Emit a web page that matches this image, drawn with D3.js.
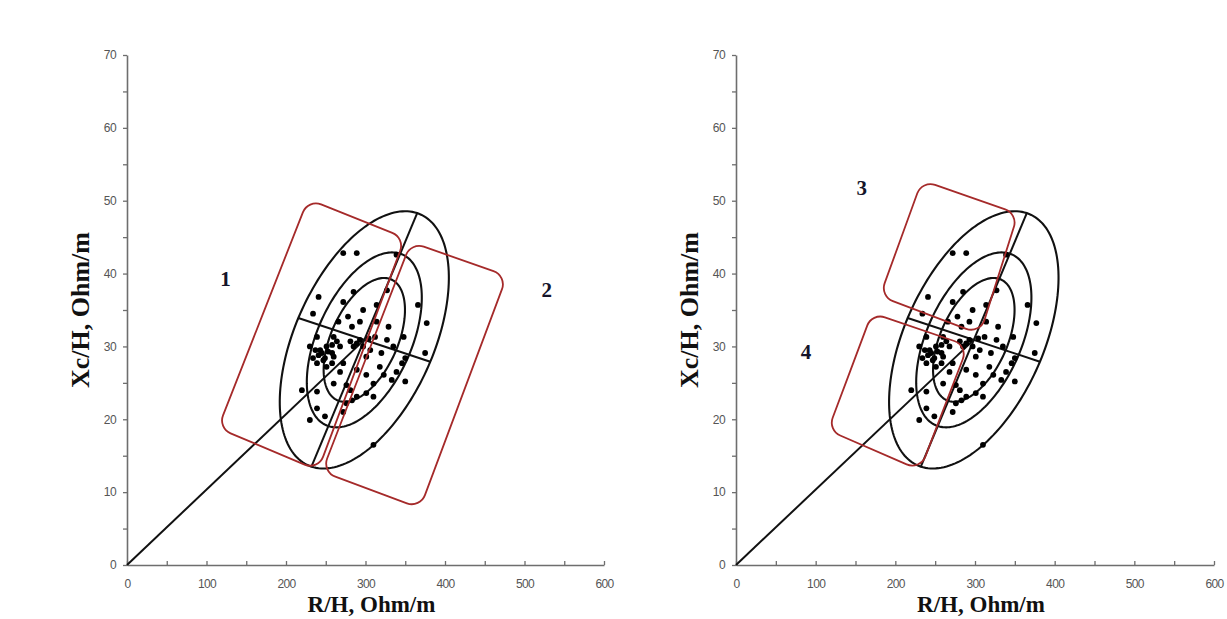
<!DOCTYPE html>
<html>
<head>
<meta charset="utf-8">
<script src="https://cdn.jsdelivr.net/npm/d3@7"></script>
<style>
  html, body { margin: 0; padding: 0; background: #fff; }
  svg { display: block; }
</style>
</head>
<body>
<svg id="chart" width="1227" height="619"></svg>
<script>
// Axis ticks
const xTickValues = [0, 50, 100, 150, 200, 250, 300, 350, 400, 450, 500, 550, 600];
const xTickLabels = [0, 100, 200, 300, 400, 500, 600];
const yTickValues = [0, 5, 10, 15, 20, 25, 30, 35, 40, 45, 50, 55, 60, 65, 70];
const yTickLabels = [0, 10, 20, 30, 40, 50, 60, 70];

// Individual measurements (R/H, Xc/H)
const pointsR = [272, 289, 339, 241, 285, 272, 327, 234, 366, 297, 314, 278, 293, 266, 314, 329, 377, 283, 239, 260,
  289, 304, 312, 335, 230, 243, 251, 258, 285, 241, 247, 234, 375, 350, 346, 301, 318, 323, 272, 268,
  289, 301, 333, 350, 220, 239, 276, 281, 289, 301, 310, 276, 283, 239, 249, 230, 272, 310,
  237, 245, 249, 253, 258, 260, 239, 251, 258, 264, 268, 281, 293, 297, 306, 320, 327, 348, 310, 260, 339];
const pointsXc = [42.8, 42.8, 42.6, 36.8, 37.5, 36.1, 37.7, 34.5, 35.7, 35.0, 35.7, 34.1, 33.4, 33.4, 33.4, 32.7, 33.2, 32.7, 31.3, 31.3,
  30.4, 31.1, 31.3, 30.0, 30.0, 29.5, 30.0, 29.1, 30.0, 28.8, 28.1, 28.4, 29.1, 28.4, 27.7, 28.6, 27.2, 26.1, 27.7, 26.5,
  26.8, 26.1, 25.4, 25.2, 24.0, 23.8, 24.7, 24.0, 23.1, 23.6, 23.1, 22.2, 22.6, 21.5, 20.4, 19.9, 21.0, 16.5,
  29.5, 29.1, 28.4, 29.3, 30.2, 28.6, 27.7, 27.2, 27.7, 30.7, 30.0, 30.7, 30.9, 30.0, 29.5, 29.1, 30.9, 31.3, 24.9, 24.9, 26.5];

// Tolerance ellipses: mean vector, conjugate half-axes of the outer (95%) ellipse, scale of each level
const meanVector = [298.5, 30.9];
const majorHalfAxis = [66.5, 17.4];
const minorHalfAxis = [83.0, -3.0];
const ellipseLevels = [0.481, 0.680, 1.0];

// Highlighted zones (corner points in R/H, Xc/H)
const zonesLeft = [
  [[227.7, 50.2], [349.7, 44.9], [240.3, 13.0], [114.5, 18.8]],
  [[357.2, 44.3], [478.0, 39.7], [368.6, 7.8], [245.3, 12.8]]
];
const zonesRight = [
  [[233.5, 52.8], [354.0, 48.2], [306.3, 31.7], [180.7, 36.9]],
  [[170.7, 34.6], [291.2, 30.1], [231.0, 13.0], [115.5, 18.5]]
];
const zoneNamesLeft = [["1", 124, 39.3], ["2", 528, 37.7]];
const zoneNamesRight = [["3", 158, 51.7], ["4", 88, 29.2]];

const xTitle = "R/H, Ohm/m";
const yTitle = "Xc/H, Ohm/m";

const svg = d3.select("#chart");

function roundedPolygon(pts, r) {
  const p = d3.path();
  const n = pts.length;
  const last = pts[n - 1], first = pts[0];
  p.moveTo((last[0] + first[0]) / 2, (last[1] + first[1]) / 2);
  for (let i = 0; i < n; i++) {
    const a = pts[i], b = pts[(i + 1) % n];
    p.arcTo(a[0], a[1], (a[0] + b[0]) / 2, (a[1] + b[1]) / 2, r);
  }
  p.closePath();
  return p.toString();
}

function drawPanel(opt) {
  const x = d3.scaleLinear().domain([0, 600]).range([opt.x0, opt.x1]);
  const y = d3.scaleLinear().domain([0, 70]).range([565, 55]);
  const g = svg.append("g");

  // x axis
  const xAxis = d3.axisBottom(x)
    .tickValues(xTickValues)
    .tickSizeInner(-4).tickSizeOuter(0).tickPadding(14)
    .tickFormat(d => xTickLabels.includes(d) ? d : "");
  const gx = g.append("g").attr("transform", "translate(0,565)").call(xAxis);

  // y axis
  const yAxis = d3.axisLeft(y)
    .tickValues(yTickValues)
    .tickSizeInner(4).tickSizeOuter(0).tickPadding(7)
    .tickFormat(d => yTickLabels.includes(d) ? d : "");
  const gy = g.append("g").attr("transform", `translate(${opt.x0},0)`).call(yAxis);

  [gx, gy].forEach(a => {
    a.select(".domain").attr("stroke", "#6e6e6e").attr("stroke-width", 1.6);
    a.selectAll(".tick line").attr("stroke", "#6e6e6e").attr("stroke-width", 1.3);
    a.selectAll(".tick text")
      .attr("fill", "#555")
      .style("font-family", "'Liberation Sans', Arial, sans-serif")
      .style("font-size", "12px")
      .attr("letter-spacing", "-0.6");
  });

  // line from the origin to the mean vector
  const line = d3.line().x(d => x(d[0])).y(d => y(d[1]));
  g.append("path")
    .attr("d", line([[0, 0], meanVector]))
    .attr("fill", "none").attr("stroke", "#111").attr("stroke-width", 2);

  // tolerance ellipses
  const steps = d3.range(0, 180);
  ellipseLevels.forEach(k => {
    const pts = steps.map(i => {
      const t = i / 180 * 2 * Math.PI;
      return [
        meanVector[0] + k * (Math.cos(t) * majorHalfAxis[0] + Math.sin(t) * minorHalfAxis[0]),
        meanVector[1] + k * (Math.cos(t) * majorHalfAxis[1] + Math.sin(t) * minorHalfAxis[1])
      ];
    });
    g.append("path")
      .attr("d", d3.line().x(d => x(d[0])).y(d => y(d[1])).curve(d3.curveLinearClosed)(pts))
      .attr("fill", "none").attr("stroke", "#111").attr("stroke-width", 2.1);
  });

  // principal axes of the outer ellipse
  [majorHalfAxis, minorHalfAxis].forEach(h => {
    g.append("path")
      .attr("d", line([[meanVector[0] - h[0], meanVector[1] - h[1]], [meanVector[0] + h[0], meanVector[1] + h[1]]]))
      .attr("fill", "none").attr("stroke", "#111").attr("stroke-width", 2);
  });

  // measurements
  g.selectAll("circle.pt")
    .data(d3.zip(pointsR, pointsXc))
    .join("circle")
    .attr("class", "pt")
    .attr("cx", d => x(d[0])).attr("cy", d => y(d[1]))
    .attr("r", 2.9).attr("fill", "#000");

  // zones
  opt.zones.forEach(z => {
    g.append("path")
      .attr("d", roundedPolygon(z.map(d => [x(d[0]), y(d[1])]), 14))
      .attr("fill", "none").attr("stroke", "#a52a2a").attr("stroke-width", 1.8);
  });

  opt.names.forEach(n => {
    g.append("text")
      .attr("x", x(n[1])).attr("y", y(n[2]))
      .attr("text-anchor", "middle").attr("dominant-baseline", "central")
      .style("font-family", "'Liberation Serif', 'Times New Roman', serif")
      .style("font-weight", "bold").style("font-size", "21px")
      .attr("fill", "#14142a")
      .text(n[0]);
  });

  // axis titles
  g.append("text")
    .attr("x", (opt.x0 + opt.x1) / 2 + 6).attr("y", 612)
    .attr("text-anchor", "middle")
    .style("font-family", "'Liberation Serif', 'Times New Roman', serif")
    .style("font-weight", "bold").style("font-size", "23px")
    .attr("fill", "#111")
    .text(xTitle);
  g.append("text")
    .attr("transform", `translate(${opt.x0 - 38},310) rotate(-90)`)
    .attr("text-anchor", "middle")
    .style("font-family", "'Liberation Serif', 'Times New Roman', serif")
    .style("font-weight", "bold").style("font-size", "26px")
    .attr("fill", "#111")
    .text(yTitle);
}

drawPanel({ x0: 127, x1: 604, zones: zonesLeft, names: zoneNamesLeft });
drawPanel({ x0: 736, x1: 1214, zones: zonesRight, names: zoneNamesRight });
</script>
</body>
</html>
